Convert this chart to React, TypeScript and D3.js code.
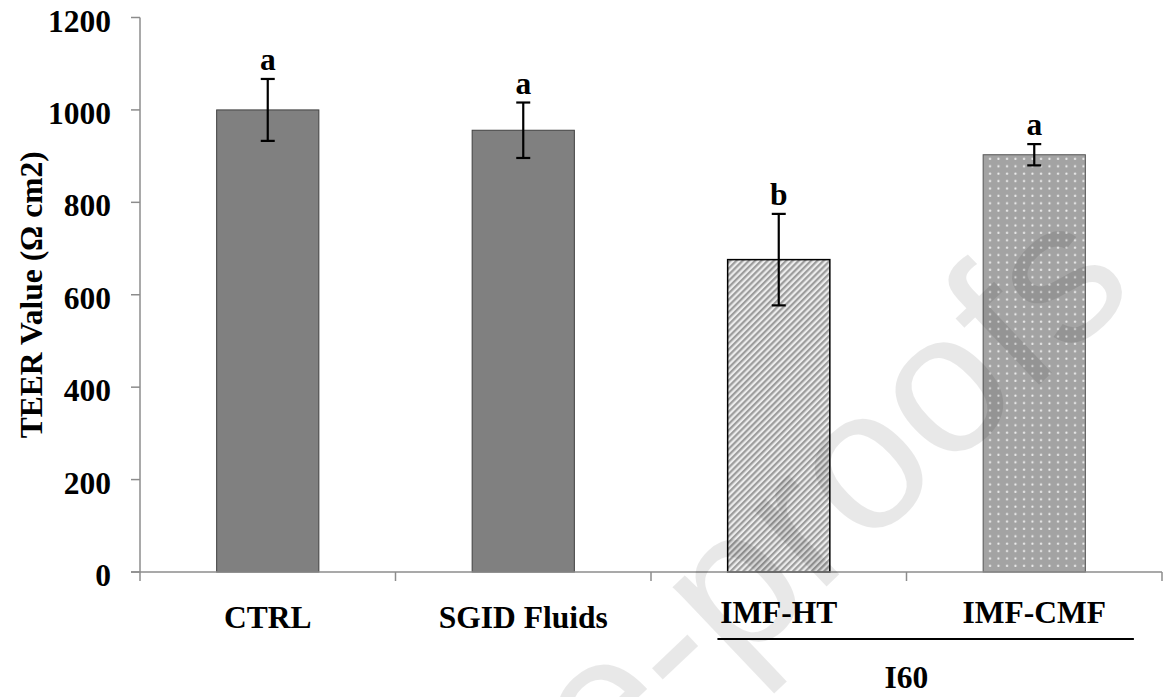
import React, { useEffect } from 'react';
import * as d3 from 'd3';

const categories = ['CTRL', 'SGID Fluids', 'IMF-HT', 'IMF-CMF'];
const teerValues = [1000, 956, 676, 903];
const teerErrors = [67, 60, 99, 23];
const sigLetters = ['a', 'a', 'b', 'a'];
const groupOf = ['', '', 'I60', 'I60'];
const yTicks = [0, 200, 400, 600, 800, 1000, 1200];
const fills = ['solid', 'solid', 'hatch', 'dots'];

const WIDTH = 1171;
const HEIGHT = 697;
const FONT = '"Liberation Serif", "Times New Roman", serif';
const FS = 31.5;

const App: React.FC = () => {
  useEffect(() => {
    document.body.style.margin = '0';
  }, []);

  const x = d3.scaleBand<string>()
    .domain(categories)
    .range([140, 1162])
    .paddingInner(0.6)
    .paddingOuter(0.3);
  const step = x.step();
  const y = d3.scaleLinear().domain([0, 1200]).range([572, 17.5]);

  const barFill = (f: string) =>
    f === 'hatch' ? 'url(#hatch)' : f === 'dots' ? 'url(#dots)' : '#808080';
  const barStroke = (f: string) =>
    f === 'hatch' ? '#000' : f === 'dots' ? '#555' : '#404040';

  // group bracket (I60)
  const groupCats = categories.filter((_, i) => groupOf[i] === 'I60');
  const gStart = (x(groupCats[0]) as number) - step * 0.3;
  const gEnd = (x(groupCats[groupCats.length - 1]) as number) + x.bandwidth() + step * 0.3;
  const gMid = (gStart + gEnd) / 2;

  const axisColor = '#8c8c8c';

  return (
    <svg width={WIDTH} height={HEIGHT} style={{ display: 'block', background: '#fff' }}>
      <defs>
        <pattern id="hatch" width="4.4" height="4.4" patternUnits="userSpaceOnUse" patternTransform="rotate(45)">
          <rect width="4.4" height="4.4" fill="#ececec" />
          <rect width="2.2" height="4.4" fill="#9c9c9c" />
        </pattern>
        <pattern id="dots" width="8.5" height="7.4" patternUnits="userSpaceOnUse">
          <rect width="8.5" height="7.4" fill="#a3a3a3" />
          <circle cx="4" cy="3.5" r="1.1" fill="#f0f0f0" />
        </pattern>
      </defs>

      {/* y axis */}
      <line x1={140} x2={140} y1={y(1200)} y2={y(0)} stroke={axisColor} strokeWidth={1.5} />
      {yTicks.map(t => (
        <g key={t}>
          <line x1={131} x2={140} y1={y(t)} y2={y(t)} stroke={axisColor} strokeWidth={1.5} />
          <text x={111} y={y(t) + 14} textAnchor="end" fontFamily={FONT} fontWeight="bold" fontSize={FS}>
            {t}
          </text>
        </g>
      ))}
      <text
        transform={`translate(42, ${(y(0) + y(1200)) / 2}) rotate(-90)`}
        textAnchor="middle"
        fontFamily={FONT}
        fontWeight="bold"
        fontSize={FS}
      >
        TEER Value (Ω cm2)
      </text>

      {/* bars */}
      {categories.map((c, i) => (
        <rect
          key={c}
          x={x(c)}
          y={y(teerValues[i])}
          width={x.bandwidth()}
          height={y(0) - y(teerValues[i])}
          fill={barFill(fills[i])}
          stroke={barStroke(fills[i])}
          strokeWidth={fills[i] === 'hatch' ? 1.5 : 1}
        />
      ))}

      {/* x axis */}
      <line x1={131} x2={1162} y1={y(0)} y2={y(0)} stroke={axisColor} strokeWidth={1.5} />
      {d3.range(categories.length + 1).map(k => {
        const xx = 140 + k * step;
        return <line key={k} x1={xx} x2={xx} y1={y(0)} y2={y(0) + 9} stroke={axisColor} strokeWidth={1.5} />;
      })}

      {/* error bars + letters */}
      {categories.map((c, i) => {
        const cx = (x(c) as number) + x.bandwidth() / 2;
        const top = y(teerValues[i] + teerErrors[i]);
        const bot = y(teerValues[i] - teerErrors[i]);
        return (
          <g key={c} stroke="#000" strokeWidth={2.2}>
            <line x1={cx} x2={cx} y1={top} y2={bot} />
            <line x1={cx - 7} x2={cx + 7} y1={top} y2={top} />
            <line x1={cx - 7} x2={cx + 7} y1={bot} y2={bot} />
            <text x={cx} y={top - 9} stroke="none" textAnchor="middle" fontFamily={FONT} fontWeight="bold" fontSize={FS}>
              {sigLetters[i]}
            </text>
          </g>
        );
      })}

      {/* category labels */}
      {categories.map((c, i) => (
        <text
          key={c}
          x={(x(c) as number) + x.bandwidth() / 2}
          y={groupOf[i] ? 623 : 628}
          textAnchor="middle"
          fontFamily={FONT}
          fontWeight="bold"
          fontSize={FS}
        >
          {c}
        </text>
      ))}

      {/* group bracket */}
      <line x1={gStart + step * 0.26} x2={gEnd - step * 0.11} y1={639} y2={639} stroke="#000" strokeWidth={2} />
      <text x={gMid} y={688} textAnchor="middle" fontFamily={FONT} fontWeight="bold" fontSize={FS}>
        I60
      </text>

      {/* watermark */}
      <text
        transform="translate(1139, 290) rotate(-43.5)"
        textAnchor="end"
        fontFamily='"Liberation Sans", Arial, sans-serif'
        fontSize={200}
        fill="#000"
        fillOpacity={0.09}
      >
        Journal Pre-proofs
      </text>
    </svg>
  );
};

export default App;
